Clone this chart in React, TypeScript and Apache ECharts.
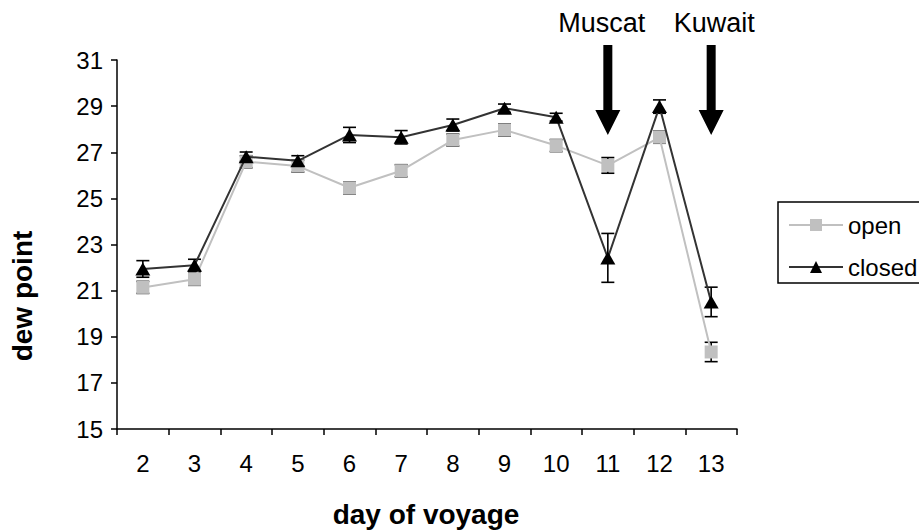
import React, { useEffect, useRef } from "react";
import * as echarts from "echarts";

// Days of the voyage shown on the category axis
const days = ["2", "3", "4", "5", "6", "7", "8", "9", "10", "11", "12", "13"];

// Mean dew point per day, with the half-length of each error bar
const openMean = [21.14, 21.49, 26.59, 26.4, 25.46, 26.2, 27.53, 27.97, 27.29, 26.43, 27.65, 18.34];
const openErr = [0.26, 0.26, 0.26, 0.26, 0.26, 0.26, 0.26, 0.26, 0.26, 0.34, 0.26, 0.42];
const closedMean = [21.94, 22.1, 26.81, 26.63, 27.75, 27.65, 28.18, 28.91, 28.52, 22.42, 28.98, 20.51];
const closedErr = [0.36, 0.26, 0.2, 0.22, 0.33, 0.29, 0.26, 0.18, 0.17, 1.06, 0.29, 0.64];

// Port calls marked with arrows above the plot
const ports = [
  { name: "Muscat", day: "11", dx: -6 },
  { name: "Kuwait", day: "13", dx: 3 },
];

const FONT = "'Liberation Sans', Arial, Helvetica, sans-serif";

function errorRows(mean: number[], err: number[]) {
  return mean.map((m, i) => [i, +(m - err[i]).toFixed(3), +(m + err[i]).toFixed(3)]);
}

function errorBarItem(params: any, api: any) {
  const idx = api.value(0);
  const lo = api.coord([idx, api.value(1)]);
  const hi = api.coord([idx, api.value(2)]);
  const hw = 6.5;
  const style = { stroke: "#000", lineWidth: 1.6 };
  return {
    type: "group",
    children: [
      { type: "line", shape: { x1: hi[0], y1: hi[1], x2: lo[0], y2: lo[1] }, style },
      { type: "line", shape: { x1: hi[0] - hw, y1: hi[1], x2: hi[0] + hw, y2: hi[1] }, style },
      { type: "line", shape: { x1: lo[0] - hw, y1: lo[1], x2: lo[0] + hw, y2: lo[1] }, style },
    ],
  };
}

export default function App() {
  const ref = useRef<HTMLDivElement>(null);

  useEffect(() => {
    if (!ref.current) return;
    const chart = echarts.init(ref.current, null, { renderer: "svg" });

    chart.setOption({
      animation: false,
      backgroundColor: "#fff",
      textStyle: { fontFamily: FONT },
      grid: { left: 117, right: 182, top: 60, bottom: 102 },
      legend: {
        data: ["open", "closed"],
        orient: "vertical",
        left: 778,
        top: 202,
        itemWidth: 54,
        itemHeight: 15,
        itemGap: 18,
        padding: [11, 40, 4, 10],
        borderColor: "#000",
        borderWidth: 1.5,
        textStyle: { fontSize: 24, color: "#000", fontFamily: FONT },
      },
      xAxis: {
        type: "category",
        data: days,
        boundaryGap: true,
        axisLine: { lineStyle: { color: "#000", width: 1.5 } },
        axisTick: { show: true, length: 6, lineStyle: { color: "#000", width: 1.5 } },
        axisLabel: { fontSize: 24, color: "#000", margin: 22, fontFamily: FONT },
        splitLine: { show: false },
      },
      yAxis: {
        type: "value",
        min: 15,
        max: 31,
        interval: 2,
        axisLine: { show: true, lineStyle: { color: "#000", width: 1.5 } },
        axisTick: { show: true, length: 6, lineStyle: { color: "#000", width: 1.5 } },
        axisLabel: { fontSize: 24, color: "#000", margin: 14, fontFamily: FONT },
        splitLine: { show: false },
      },
      series: [
        {
          type: "custom",
          name: "open error",
          renderItem: errorBarItem,
          encode: { x: 0, y: [1, 2] },
          data: errorRows(openMean, openErr),
          z: 1,
        },
        {
          type: "custom",
          name: "closed error",
          renderItem: errorBarItem,
          encode: { x: 0, y: [1, 2] },
          data: errorRows(closedMean, closedErr),
          z: 1,
        },
        {
          name: "open",
          type: "line",
          data: openMean,
          symbol: "rect",
          symbolSize: 13,
          itemStyle: { color: "#c0c0c0" },
          lineStyle: { color: "#c0c0c0", width: 2 },
          z: 3,
        },
        {
          name: "closed",
          type: "line",
          data: closedMean,
          symbol: "triangle",
          symbolSize: [15, 13],
          itemStyle: { color: "#000" },
          lineStyle: { color: "#333", width: 2 },
          z: 4,
        },
      ],
    });

    // Axis titles, plus arrows for the port calls placed over their day
    const graphics: any[] = [
      {
        type: "text",
        x: 426,
        y: 514,
        style: {
          text: "day of voyage",
          font: `bold 28px ${FONT}`,
          fill: "#000",
          align: "center",
          verticalAlign: "middle",
        },
      },
      {
        type: "text",
        x: 22,
        y: 296,
        rotation: Math.PI / 2,
        style: {
          text: "dew point",
          font: `bold 28px ${FONT}`,
          fill: "#000",
          align: "center",
          verticalAlign: "middle",
        },
      },
    ];
    ports.forEach((p) => {
      const px = chart.convertToPixel({ xAxisIndex: 0 }, p.day) as number;
      graphics.push({
        type: "text",
        x: px + p.dx,
        y: 23,
        style: {
          text: p.name,
          font: `27px ${FONT}`,
          fill: "#000",
          align: "center",
          verticalAlign: "middle",
        },
      });
      graphics.push({
        type: "polygon",
        shape: {
          points: [
            [px - 4.5, 45],
            [px + 4.5, 45],
            [px + 4.5, 110],
            [px + 12.5, 110],
            [px, 135],
            [px - 12.5, 110],
            [px - 4.5, 110],
          ],
        },
        style: { fill: "#000" },
      });
    });
    chart.setOption({ graphic: graphics });

    return () => chart.dispose();
  }, []);

  return (
    <div
      ref={ref}
      style={{ position: "fixed", left: 0, top: 0, width: 919, height: 531 }}
    />
  );
}
